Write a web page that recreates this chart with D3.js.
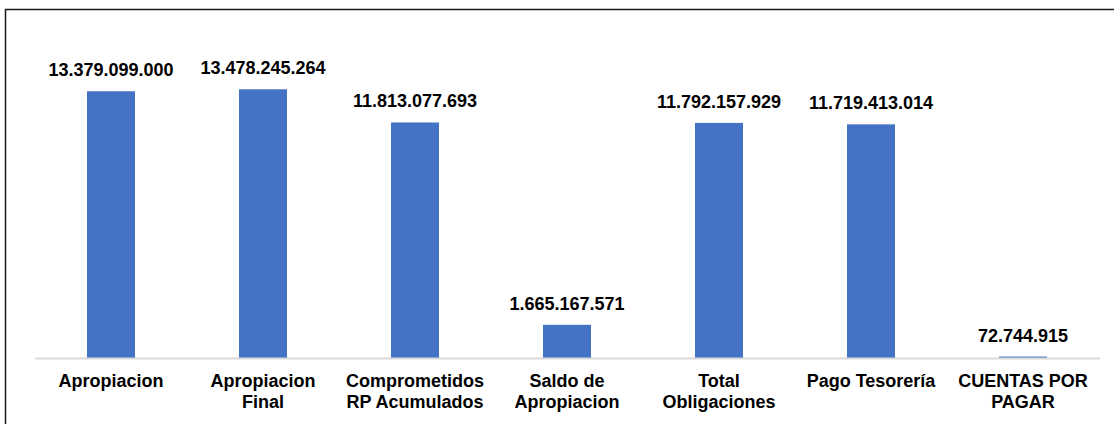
<!DOCTYPE html>
<html>
<head>
<meta charset="utf-8">
<script src="https://cdn.jsdelivr.net/npm/d3@7"></script>
<style>
  html, body { margin: 0; padding: 0; background: #ffffff; }
  svg { display: block; }
</style>
</head>
<body>
<svg id="chart" width="1114" height="424"></svg>
<script>
// Budget execution summary
const categories = [
  ["Apropiacion"],
  ["Apropiacion", "Final"],
  ["Comprometidos", "RP Acumulados"],
  ["Saldo de", "Apropiacion"],
  ["Total", "Obligaciones"],
  ["Pago Tesorería"],
  ["CUENTAS POR", "PAGAR"]
];
const values = [13379099000, 13478245264, 11813077693, 1665167571, 11792157929, 11719413014, 72744915];
const valueLabels = ["13.379.099.000", "13.478.245.264", "11.813.077.693", "1.665.167.571", "11.792.157.929", "11.719.413.014", "72.744.915"];

const svg = d3.select("#chart");
const W = 1114, H = 424;
const baseY = 358;
const font = "'Liberation Sans', Arial, sans-serif";

// outer frame
svg.append("rect")
  .attr("x", 5.5).attr("y", 9.5)
  .attr("width", W + 20).attr("height", H + 20)
  .attr("fill", "none")
  .attr("stroke", "#1a1a1a")
  .attr("stroke-width", 1.5);

const x = d3.scaleBand()
  .domain(d3.range(values.length))
  .range([35, 1099])
  .paddingInner(0.684)
  .paddingOuter(0.342);

const y = d3.scaleLinear()
  .domain([0, 16e9])
  .range([baseY, 39]);

// bars
svg.append("g").selectAll("rect")
  .data(values)
  .join("rect")
  .attr("x", (d, i) => x(i))
  .attr("y", d => y(d))
  .attr("width", x.bandwidth())
  .attr("height", d => baseY - y(d))
  .attr("fill", "#4472C4");

// category axis line
svg.append("line")
  .attr("x1", 35).attr("x2", 1100)
  .attr("y1", baseY + 0.5).attr("y2", baseY + 0.5)
  .attr("stroke", "#d9d9d9")
  .attr("stroke-width", 2);

// value labels
svg.append("g").selectAll("text")
  .data(values)
  .join("text")
  .attr("x", (d, i) => x(i) + x.bandwidth() / 2)
  .attr("y", d => y(d) - 15)
  .attr("text-anchor", "middle")
  .attr("font-family", font)
  .attr("font-weight", "bold")
  .attr("font-size", 18)
  .attr("fill", "#000")
  .text((d, i) => valueLabels[i]);

// category labels
const cat = svg.append("g").selectAll("text")
  .data(categories)
  .join("text")
  .attr("x", (d, i) => x(i) + x.bandwidth() / 2)
  .attr("y", 387)
  .attr("text-anchor", "middle")
  .attr("font-family", font)
  .attr("font-weight", "bold")
  .attr("font-size", 18)
  .attr("fill", "#000");

cat.selectAll("tspan")
  .data(d => d)
  .join("tspan")
  .attr("x", function () { return d3.select(this.parentNode).attr("x"); })
  .attr("dy", (d, j) => j === 0 ? 0 : 21)
  .text(d => d);
</script>
</body>
</html>
